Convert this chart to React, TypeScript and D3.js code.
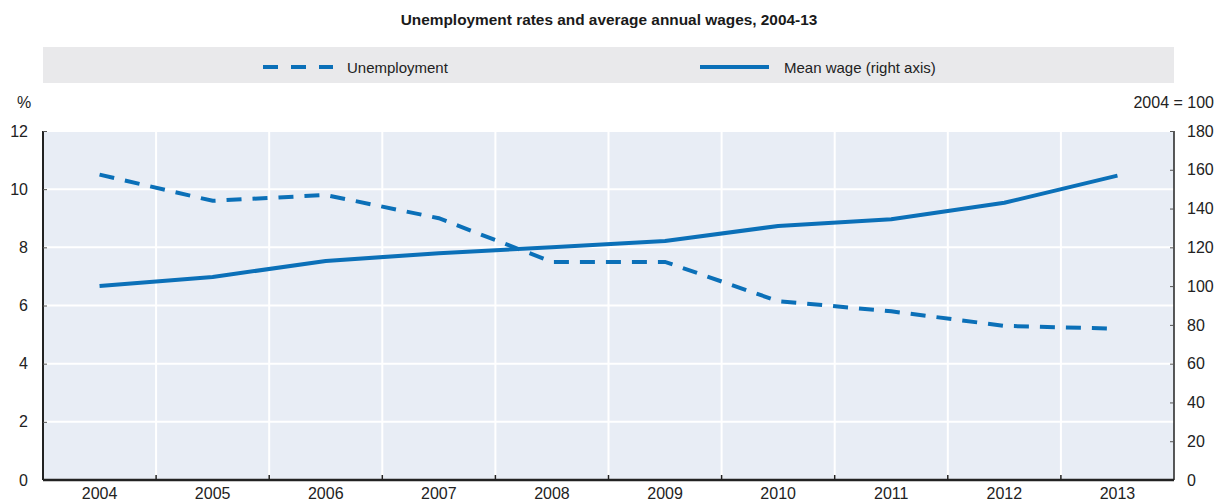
import { useEffect, useRef } from "react";
import * as d3 from "d3";

const years = ["2004", "2005", "2006", "2007", "2008", "2009", "2010", "2011", "2012", "2013"];
const unemployment = [10.5, 9.6, 9.8, 9.0, 7.5, 7.5, 6.15, 5.8, 5.3, 5.2];
const meanWage = [100, 104.7, 113, 117, 120, 123.3, 131, 134.5, 143, 157];
const leftTicks = [0, 2, 4, 6, 8, 10, 12];
const rightTicks = [0, 20, 40, 60, 80, 100, 120, 140, 160, 180];

const BLUE = "#0b70b8";
const FONT = "'Liberation Sans', Arial, sans-serif";
const TICK_SIZE = "16px";

export default function App() {
  const svgRef = useRef<SVGSVGElement>(null);

  useEffect(() => {
    if (!svgRef.current) return;
    const svg = d3.select(svgRef.current);
    svg.selectAll("*").remove();

    const width = 1216;
    const height = 503;
    const margin = { top: 131, right: 42, bottom: 23, left: 43 };
    const innerWidth = width - margin.left - margin.right;
    const innerHeight = height - margin.top - margin.bottom;

    svg.attr("width", width).attr("height", height).style("font-family", FONT);

    // Title
    svg
      .append("text")
      .attr("x", 609)
      .attr("y", 25)
      .attr("text-anchor", "middle")
      .attr("font-size", "15.4px")
      .attr("font-weight", "bold")
      .attr("fill", "#1a1a1a")
      .text("Unemployment rates and average annual wages, 2004-13");

    // Legend
    svg
      .append("rect")
      .attr("x", margin.left)
      .attr("y", 47)
      .attr("width", innerWidth)
      .attr("height", 36)
      .attr("fill", "#e9e9eb");

    const legend = svg.append("g").attr("font-size", "15px").attr("fill", "#222");
    legend
      .append("line")
      .attr("x1", 263)
      .attr("x2", 333)
      .attr("y1", 67)
      .attr("y2", 67)
      .attr("stroke", BLUE)
      .attr("stroke-width", 4)
      .attr("stroke-dasharray", "15,13");
    legend.append("text").attr("x", 347).attr("y", 73).text("Unemployment");
    legend
      .append("line")
      .attr("x1", 700)
      .attr("x2", 769)
      .attr("y1", 67)
      .attr("y2", 67)
      .attr("stroke", BLUE)
      .attr("stroke-width", 4);
    legend.append("text").attr("x", 784).attr("y", 73).text("Mean wage (right axis)");

    const x = d3.scaleBand().domain(years).range([0, innerWidth]);
    const yL = d3.scaleLinear().domain([0, 12]).range([innerHeight, 0]);
    const yR = d3.scaleLinear().domain([0, 180]).range([innerHeight, 0]);

    const g = svg.append("g").attr("transform", `translate(${margin.left},${margin.top})`);

    g.append("rect")
      .attr("width", innerWidth)
      .attr("height", innerHeight)
      .attr("fill", "#e8edf5");

    // Grid
    g.selectAll(".hgrid")
      .data(leftTicks.slice(1))
      .join("line")
      .attr("x1", 0)
      .attr("x2", innerWidth)
      .attr("y1", (d) => yL(d))
      .attr("y2", (d) => yL(d))
      .attr("stroke", "#fff")
      .attr("stroke-width", 2);

    g.selectAll(".vgrid")
      .data(years.slice(1))
      .join("line")
      .attr("x1", (d) => x(d)!)
      .attr("x2", (d) => x(d)!)
      .attr("y1", 0)
      .attr("y2", innerHeight)
      .attr("stroke", "#fff")
      .attr("stroke-width", 2);

    // Axes
    const axisColor = "#222";
    const left = g
      .append("g")
      .call(d3.axisLeft(yL).tickValues(leftTicks).tickSize(-4).tickPadding(15));
    const right = g
      .append("g")
      .attr("transform", `translate(${innerWidth},0)`)
      .call(d3.axisRight(yR).tickValues(rightTicks).tickSize(-4).tickPadding(13));
    const bottom = g
      .append("g")
      .attr("transform", `translate(0,${innerHeight})`)
      .call(d3.axisBottom(x).tickSize(0).tickPadding(8));

    // tick marks at band boundaries on the x axis
    g.append("g")
      .selectAll("line")
      .data(years.slice(1))
      .join("line")
      .attr("x1", (d) => x(d)!)
      .attr("x2", (d) => x(d)!)
      .attr("y1", innerHeight)
      .attr("y2", innerHeight - 5)
      .attr("stroke", axisColor)
      .attr("stroke-width", 1.5);

    [left, right, bottom].forEach((a) => {
      a.selectAll("text").attr("font-size", TICK_SIZE).attr("fill", "#222").attr("font-family", FONT);
      a.selectAll(".tick line").attr("stroke", "#555").attr("stroke-width", 1);
      a.select(".domain").attr("stroke", axisColor).attr("stroke-width", 1.5);
    });
    left.select(".domain").attr("d", `M0,0V${innerHeight}`).attr("stroke-width", 2);
    right.select(".domain").attr("d", `M0,0V${innerHeight}`);
    bottom.select(".domain").attr("d", `M0,0H${innerWidth}`).attr("stroke-width", 2.5);

    // Unit labels
    svg
      .append("text")
      .attr("x", 24)
      .attr("y", 108)
      .attr("text-anchor", "middle")
      .attr("font-size", TICK_SIZE)
      .attr("fill", "#222")
      .text("%");
    svg
      .append("text")
      .attr("x", 1214)
      .attr("y", 108)
      .attr("text-anchor", "end")
      .attr("font-size", TICK_SIZE)
      .attr("fill", "#222")
      .text("2004 = 100");

    const cx = (d: string) => x(d)! + x.bandwidth() / 2;

    // Mean wage line
    const wageLine = d3
      .line<number>()
      .x((_, i) => cx(years[i]))
      .y((d) => yR(d));
    g.append("path")
      .datum(meanWage)
      .attr("fill", "none")
      .attr("stroke", BLUE)
      .attr("stroke-width", 4)
      .attr("stroke-linejoin", "round")
      .attr("d", wageLine);

    // Unemployment line
    const unempLine = d3
      .line<number>()
      .x((_, i) => cx(years[i]))
      .y((d) => yL(d));
    g.append("path")
      .datum(unemployment)
      .attr("fill", "none")
      .attr("stroke", BLUE)
      .attr("stroke-width", 4)
      .attr("stroke-dasharray", "15,11")
      .attr("d", unempLine);
  }, []);

  return (
    <div>
      <svg ref={svgRef} style={{ display: "block", position: "absolute", left: 0, top: 0 }} />
    </div>
  );
}
